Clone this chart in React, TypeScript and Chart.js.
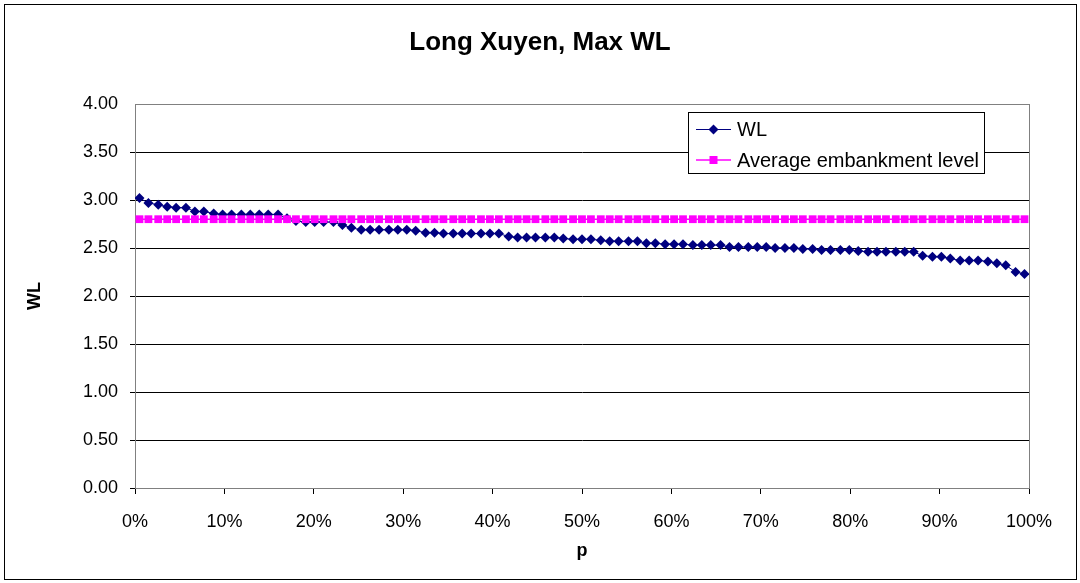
import { useEffect, useRef } from "react";
import { Chart, registerables } from "chart.js";

Chart.register(...registerables);

// Exceedance probability of each ranked maximum water level (%)
const P_PERCENT = [
  0.5, 1.5, 2.6, 3.6, 4.6, 5.7, 6.7, 7.7, 8.8, 9.8,
  10.8, 11.9, 12.9, 13.9, 14.9, 16.0, 17.0, 18.0, 19.1, 20.1,
  21.1, 22.2, 23.2, 24.2, 25.3, 26.3, 27.3, 28.4, 29.4, 30.4,
  31.4, 32.5, 33.5, 34.5, 35.6, 36.6, 37.6, 38.7, 39.7, 40.7,
  41.8, 42.8, 43.8, 44.8, 45.9, 46.9, 47.9, 49.0, 50.0, 51.0,
  52.1, 53.1, 54.1, 55.2, 56.2, 57.2, 58.2, 59.3, 60.3, 61.3,
  62.4, 63.4, 64.4, 65.5, 66.5, 67.5, 68.6, 69.6, 70.6, 71.6,
  72.7, 73.7, 74.7, 75.8, 76.8, 77.8, 78.9, 79.9, 80.9, 82.0,
  83.0, 84.0, 85.1, 86.1, 87.1, 88.1, 89.2, 90.2, 91.2, 92.3,
  93.3, 94.3, 95.4, 96.4, 97.4, 98.5, 99.5,
];

// Ranked annual maximum water levels at Long Xuyen (m)
const WL = [
  3.02, 2.97, 2.95, 2.93, 2.92, 2.92, 2.88, 2.88, 2.86, 2.85,
  2.85, 2.85, 2.85, 2.85, 2.85, 2.85, 2.81, 2.78, 2.77, 2.77,
  2.77, 2.77, 2.74, 2.71, 2.69, 2.69, 2.69, 2.69, 2.69, 2.69,
  2.68, 2.66, 2.66, 2.65, 2.65, 2.65, 2.65, 2.65, 2.65, 2.65,
  2.62, 2.61, 2.61, 2.61, 2.61, 2.61, 2.60, 2.59, 2.59, 2.59,
  2.58, 2.57, 2.57, 2.57, 2.57, 2.55, 2.55, 2.54, 2.54, 2.54,
  2.53, 2.53, 2.53, 2.53, 2.51, 2.51, 2.51, 2.51, 2.51, 2.50,
  2.50, 2.50, 2.49, 2.49, 2.48, 2.48, 2.48, 2.48, 2.47, 2.46,
  2.46, 2.46, 2.46, 2.46, 2.46, 2.42, 2.41, 2.41, 2.39, 2.37,
  2.37, 2.37, 2.36, 2.34, 2.32, 2.25, 2.23,
];

// Average embankment crest level (m)
const EMBANKMENT_LEVEL = 2.8;

const X_MIN = 0;
const X_MAX = 100;
const X_STEP = 10;
const Y_MIN = 0;
const Y_MAX = 4;
const Y_STEP = 0.5;

const TITLE = "Long Xuyen, Max WL";
const X_TITLE = "p";
const Y_TITLE = "WL";
const SERIES_NAMES = ["WL", "Average embankment level"];

const NAVY = "#000080";
const MAGENTA = "#FF00FF";
const FONT = "'Liberation Sans', Arial, sans-serif";

// Frame, titles and the boxed legend sitting inside the plot area
const decorations = {
  id: "decorations",
  beforeDraw(chart: any) {
    const { ctx } = chart;
    ctx.save();
    ctx.fillStyle = "#ffffff";
    ctx.fillRect(0, 0, chart.width, chart.height);
    ctx.restore();
  },
  beforeDatasetsDraw(chart: any) {
    const { ctx, chartArea: a } = chart;
    ctx.save();
    ctx.strokeStyle = "#808080";
    ctx.lineWidth = 1;
    ctx.strokeRect(a.left + 0.5, a.top + 0.5, a.right - a.left, a.bottom - a.top);
    ctx.restore();
  },
  afterDraw(chart: any) {
    const { ctx, chartArea: a } = chart;
    ctx.save();
    // outer chart border
    ctx.strokeStyle = "#000000";
    ctx.lineWidth = 1;
    ctx.strokeRect(4.5, 4.5, 1072, 575);

    ctx.fillStyle = "#000000";
    ctx.textAlign = "center";
    ctx.textBaseline = "middle";
    ctx.font = `bold 26px ${FONT}`;
    ctx.fillText(TITLE, chart.width / 2, 43);

    ctx.font = `bold 18px ${FONT}`;
    ctx.fillText(X_TITLE, (a.left + a.right) / 2, 551);
    ctx.save();
    ctx.translate(35, (a.top + a.bottom) / 2);
    ctx.rotate(-Math.PI / 2);
    ctx.fillText(Y_TITLE, 0, 0);
    ctx.restore();

    // legend
    const lx = 688.5, ly = 112.5, lw = 296, lh = 61;
    ctx.fillStyle = "#ffffff";
    ctx.fillRect(lx, ly, lw, lh);
    ctx.strokeStyle = "#000000";
    ctx.lineWidth = 1;
    ctx.strokeRect(lx, ly, lw, lh);

    const rows = [129, 160];
    const x0 = 696, x1 = 731, xm = 713.5;
    // WL sample
    ctx.strokeStyle = NAVY;
    ctx.lineWidth = 1;
    ctx.beginPath();
    ctx.moveTo(x0, rows[0] + 0.5);
    ctx.lineTo(x1, rows[0] + 0.5);
    ctx.stroke();
    ctx.fillStyle = NAVY;
    ctx.beginPath();
    ctx.moveTo(xm - 5, rows[0] + 0.5);
    ctx.lineTo(xm, rows[0] - 4.5);
    ctx.lineTo(xm + 5, rows[0] + 0.5);
    ctx.lineTo(xm, rows[0] + 5.5);
    ctx.closePath();
    ctx.fill();
    // embankment sample
    ctx.strokeStyle = MAGENTA;
    ctx.lineWidth = 1.5;
    ctx.beginPath();
    ctx.moveTo(x0, rows[1]);
    ctx.lineTo(x1, rows[1]);
    ctx.stroke();
    ctx.fillStyle = MAGENTA;
    ctx.fillRect(xm - 4, rows[1] - 4, 8, 8);

    ctx.fillStyle = "#000000";
    ctx.textAlign = "left";
    ctx.font = `20px ${FONT}`;
    ctx.fillText(SERIES_NAMES[0], 737, rows[0] + 1);
    ctx.fillText(SERIES_NAMES[1], 737, rows[1] + 1);
    ctx.restore();
  },
};

export default function App() {
  const canvasRef = useRef<HTMLCanvasElement | null>(null);

  useEffect(() => {
    const canvas = canvasRef.current;
    if (!canvas) return;

    const wlPoints = P_PERCENT.map((p, i) => ({ x: p, y: WL[i] }));
    const embankmentPoints = P_PERCENT.map((p) => ({ x: p, y: EMBANKMENT_LEVEL }));

    const chart = new Chart(canvas, {
      type: "scatter",
      data: {
        datasets: [
          {
            label: SERIES_NAMES[0],
            data: wlPoints,
            showLine: true,
            borderColor: NAVY,
            borderWidth: 1,
            backgroundColor: NAVY,
            pointStyle: "rectRot",
            pointRadius: 5,
            pointBorderWidth: 0,
            pointBackgroundColor: NAVY,
            order: 2,
          },
          {
            label: SERIES_NAMES[1],
            data: embankmentPoints,
            showLine: true,
            borderColor: MAGENTA,
            borderWidth: 1.5,
            backgroundColor: MAGENTA,
            pointStyle: "rect",
            pointRadius: 5.5,
            pointBorderWidth: 0,
            pointBackgroundColor: MAGENTA,
            order: 1,
          },
        ],
      },
      options: {
        responsive: false,
        animation: false,
        devicePixelRatio: 1,
        layout: { padding: { left: 0, top: 104, right: 51, bottom: 0 } },
        plugins: {
          legend: { display: false },
          title: { display: false },
          tooltip: { enabled: false },
        },
        scales: {
          x: {
            type: "linear",
            min: X_MIN,
            max: X_MAX,
            border: { display: true, color: "#404040", width: 1 },
            grid: {
              drawOnChartArea: false,
              drawTicks: true,
              tickLength: 6,
              color: "#000000",
            },
            ticks: {
              stepSize: X_STEP,
              padding: 17,
              color: "#000000",
              font: { family: FONT, size: 18 },
              maxRotation: 0,
              callback: (v: any) => `${v}%`,
            },
            afterFit: (s: any) => {
              s.height = 95;
              s.paddingLeft = 0;
              s.paddingRight = 0;
            },
          },
          y: {
            type: "linear",
            min: Y_MIN,
            max: Y_MAX,
            border: { display: true, color: "#000000", width: 1 },
            grid: {
              drawOnChartArea: true,
              drawTicks: true,
              tickLength: 5,
              color: (c: any) => (c.tick && c.tick.value >= Y_MAX ? "rgba(0,0,0,0)" : "#000000"),
            },
            ticks: {
              stepSize: Y_STEP,
              padding: 12,
              color: "#000000",
              font: { family: FONT, size: 18 },
              callback: (v: any) => Number(v).toFixed(2),
            },
            afterFit: (s: any) => {
              s.width = 135;
              s.paddingTop = 0;
              s.paddingBottom = 0;
            },
          },
        },
      },
      plugins: [decorations],
    });

    return () => chart.destroy();
  }, []);

  return (
    <div style={{ position: "absolute", left: 0, top: 0, width: 1080, height: 583, background: "#fff" }}>
      <canvas ref={canvasRef} width={1080} height={583} />
    </div>
  );
}
